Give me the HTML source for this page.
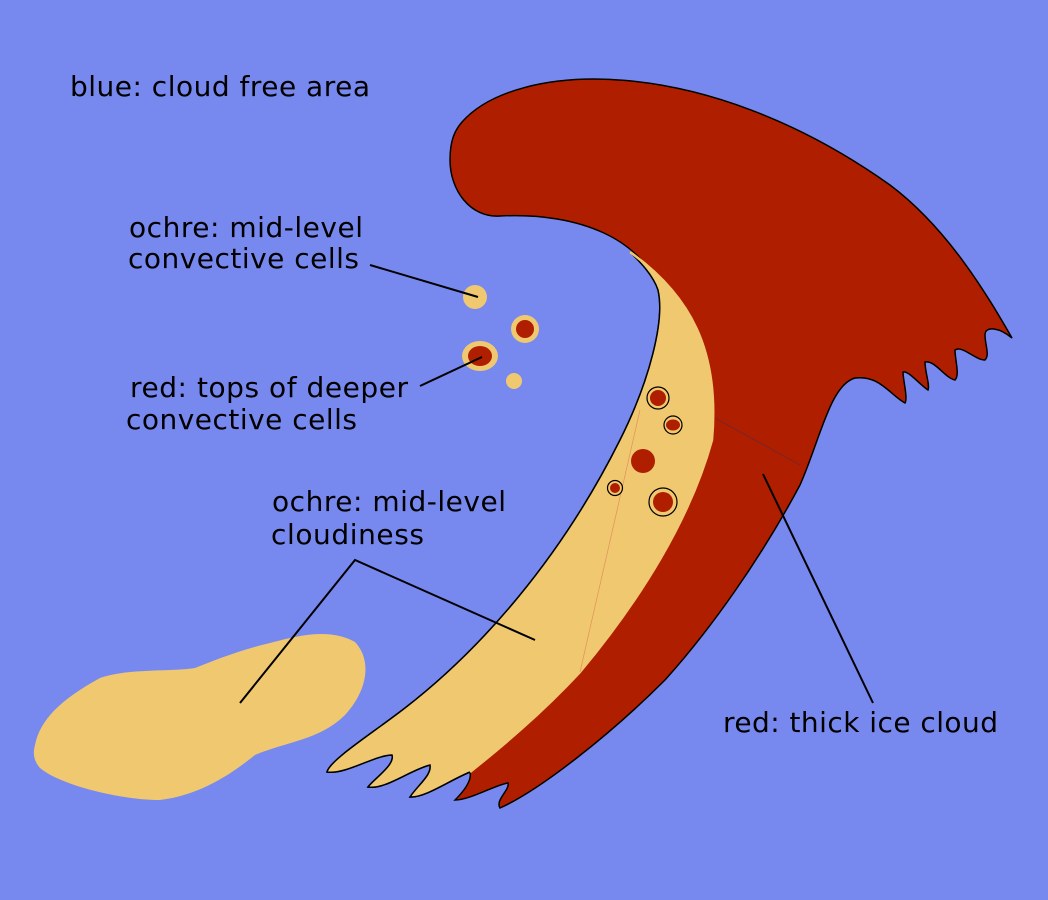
<!DOCTYPE html>
<html><head><style>html,body{margin:0;padding:0;background:#7789ee;}svg{display:block}</style></head>
<body>
<svg width="1048" height="900" viewBox="0 0 1048 900" xmlns="http://www.w3.org/2000/svg">
<rect width="1048" height="900" fill="#7789ee"/>
<path d="M35,745 C40,720 60,700 100,678 C130,668 170,672 195,668 C215,660 240,650 270,643 C300,635 330,628 355,642 C372,660 368,690 345,715 C320,740 285,742 255,755 C230,775 200,795 160,800 C120,800 60,785 40,768 C33,760 33,752 35,745 Z" fill="#f0c870"/>
<path d="M462,122 C515,62 700,50 890,185 C950,230 990,300 1012,338 C1000,328 985,325 985,335 C985,345 990,355 985,360 C975,360 962,345 955,350 C955,360 960,375 955,380 C945,378 935,360 925,362 C925,372 930,385 928,390 C920,385 908,370 903,372 C903,380 908,398 905,403 C890,395 880,375 855,378 C830,385 820,440 800,485 C760,560 710,630 665,680 C610,735 540,790 500,808 C495,800 510,790 508,783 C495,785 470,800 455,800 C465,790 472,780 470,772 C450,780 425,798 410,797 C418,785 432,775 430,765 C410,770 385,790 368,787 C375,778 395,765 392,755 C375,755 345,775 327,772 C330,760 370,735 405,708 C480,650 560,560 620,440 C650,380 665,320 658,290 C643,240 580,212 500,216 C470,218 450,190 450,160 C450,140 455,130 462,122 Z" fill="#b01e00" stroke="#000" stroke-width="1.5"/>
<path d="M630,252 C690,295 720,350 712,440 C690,520 640,600 580,672 C540,715 500,748 470,772 C450,780 425,798 410,797 C418,785 432,775 430,765 C410,770 385,790 368,787 C375,778 395,765 392,755 C375,755 345,775 327,772 C330,760 370,735 405,708 C480,650 560,560 620,440 C650,380 665,320 658,290 C653,275 640,262 630,252 Z" fill="#f0c870" stroke="#000" stroke-width="1.5"/>
<path d="M630,252 C690,295 720,350 712,440 C690,520 640,600 580,672 C540,715 500,748 470,772" fill="none" stroke="#f0c870" stroke-width="2.5"/>
<line x1="715" y1="418" x2="800" y2="465" stroke="#5a2a40" stroke-width="0.7"/>
<line x1="640" y1="410" x2="580" y2="672" stroke="#e09060" stroke-width="0.7"/>
<circle cx="475" cy="297" r="12" fill="#f0c870"/>
<circle cx="525" cy="329" r="14" fill="#f0c870"/><circle cx="525" cy="329" r="9" fill="#b01e00"/>
<ellipse cx="480" cy="356" rx="18" ry="15" fill="#f0c870"/><ellipse cx="480" cy="356" rx="12" ry="10" fill="#b01e00"/>
<circle cx="514" cy="381" r="8" fill="#f0c870"/>
<circle cx="658" cy="398" r="11" fill="none" stroke="#000" stroke-width="1.2"/><circle cx="658" cy="398" r="8" fill="#b01e00"/>
<circle cx="673" cy="425" r="9" fill="none" stroke="#000" stroke-width="1.2"/><ellipse cx="673" cy="425" rx="7" ry="5.5" fill="#b01e00"/>
<circle cx="643" cy="461" r="12" fill="#b01e00"/>
<circle cx="615" cy="488" r="7.5" fill="none" stroke="#000" stroke-width="1.2"/><circle cx="615" cy="488" r="5" fill="#b01e00"/>
<circle cx="663" cy="502" r="14" fill="none" stroke="#000" stroke-width="1.2"/><circle cx="663" cy="502" r="10" fill="#b01e00"/>
<g stroke="#000" stroke-width="2" fill="none">
<line x1="370" y1="265" x2="478" y2="297"/>
<line x1="420" y1="386" x2="482" y2="357"/>
<polyline points="240,703 355,560 535,640"/>
<line x1="763" y1="474" x2="873" y2="703"/>
</g>
<g font-family="DejaVu Sans, Liberation Sans, sans-serif" font-size="28" fill="#000">
<text x="70" y="96" textLength="300">blue: cloud free area</text>
<text x="129" y="237" textLength="234">ochre: mid-level</text>
<text x="128" y="268" textLength="231">convective cells</text>
<text x="130" y="397" textLength="278">red: tops of deeper</text>
<text x="126" y="429" textLength="231">convective cells</text>
<text x="272" y="511" textLength="234">ochre: mid-level</text>
<text x="271" y="544" textLength="153">cloudiness</text>
<text x="723" y="732" textLength="275">red: thick ice cloud</text>
</g>
</svg>
</body></html>
